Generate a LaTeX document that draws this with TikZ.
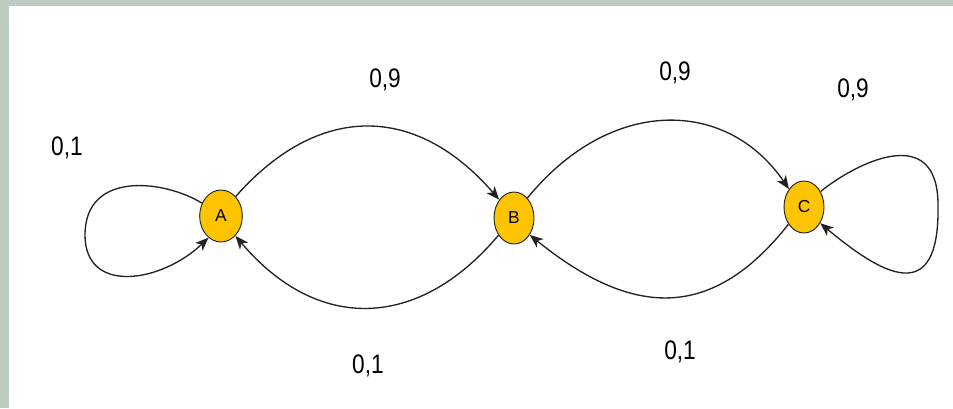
\documentclass[tikz,border=0pt]{standalone}
\usepackage{fontspec}
\setmainfont{Liberation Sans}
\usetikzlibrary{arrows.meta,shapes.geometric}
\definecolor{frame}{HTML}{BCCCBE}
\definecolor{gold}{HTML}{FFC400}
\definecolor{edge}{HTML}{222222}
\tikzset{
  state/.style={ellipse, draw=edge, line width=0.7pt, fill=gold, inner sep=0pt,
    minimum width=30pt, minimum height=39pt, font=\fontsize{13}{15}\selectfont},
  trans/.style={draw=edge, line width=1pt,
    -{Stealth[length=10pt,width=8pt,inset=2.8pt]}},
  prob/.style={font=\fontsize{17}{20}\selectfont, inner sep=0pt}
}
\newcommand{\probtext}[1]{\scalebox{1}[1.18]{#1}}
\begin{document}
\begin{tikzpicture}[x=0.75pt,y=-0.75pt]
  % page with its frame strips on top and left
  \fill[frame] (0,0) rectangle (953,408);
  \fill[white] (9,6) rectangle (953,408);
  \useasboundingbox (0,0) rectangle (953,408);

  % states
  \node[state, minimum width=32pt] (A) at (221,216) {A};
  \node[state] (B) at (514,218) {B};
  \node[state] (C) at (804,207) {C};

  % loop turning points
  \coordinate (loopA) at (85,235);
  \coordinate (loopC) at (938,205);

  % transitions between states
  \draw[trans] (A.53)  .. controls +(83,-94)  and +(-83,-96) .. (B.129);
  \draw[trans] (B.228) .. controls +(-80,95)  and +(82,97)   .. (A.306);
  \draw[trans] (B.56)  .. controls +(82,-101) and +(-63,-92) .. (C.130);
  \draw[trans] (C.228) .. controls +(-75,95)  and +(105,85)  .. (B.313);

  % self loops
  \draw[trans] (A.146) .. controls +(-37,-23) and +(0,-65) .. (loopA)
               .. controls +(0,60) and +(-47,45) .. (A.240);
  \draw[trans] (C.43) .. controls +(33,-27) and +(0,-85) .. (loopC)
               .. controls +(2,105) and +(60,50) .. (C.315);

  % transition probabilities
  \node[prob] (pAA) at (67,148)  {\probtext{0,1}};
  \node[prob] (pAB) at (385,80)  {\probtext{0,9}};
  \node[prob] (pBA) at (368,366) {\probtext{0,1}};
  \node[prob] (pBC) at (675,73)  {\probtext{0,9}};
  \node[prob] (pCB) at (680,352) {\probtext{0,1}};
  \node[prob] (pCC) at (853,90)  {\probtext{0,9}};
\end{tikzpicture}
\end{document}
